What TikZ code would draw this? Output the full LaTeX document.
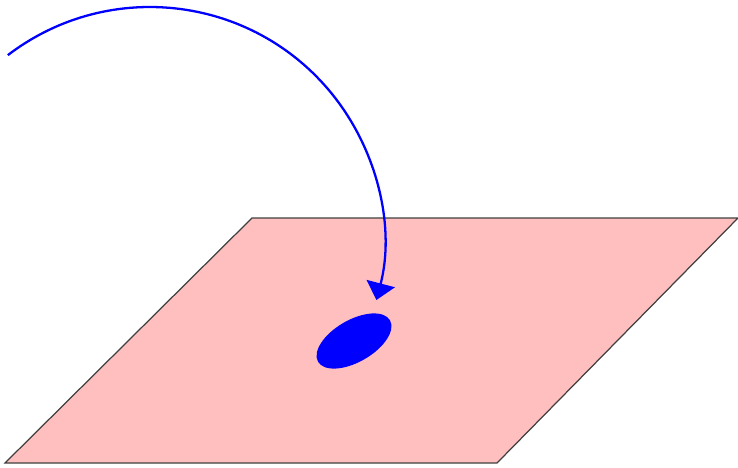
\documentclass[tikz,border=0pt]{standalone}
\usepackage{tikz,xcolor}
\usetikzlibrary{arrows.meta}

\begin{document}
\begin{tikzpicture}

    \useasboundingbox (0,0) rectangle (14.76,9.34);

    % Plane
    \draw[fill=red!25, draw=black!75, line width=0.7pt] (0.1,0.08) -- (9.94,0.08) -- (14.76,4.98) -- (5.04,4.98) -- cycle;

    % Spot on the plane
    \fill[blue, rotate around={30:(7.08,2.52)}] (7.08,2.52) ellipse (0.83cm and 0.42cm);

    % Falling path
    \draw[-{Triangle[length=0.34cm, width=0.58cm]}, blue, line width=1.3pt] ([shift={(127.4:4.68)}]3.0,4.52) arc (127.4:-14.6:4.68);

\end{tikzpicture}
\end{document}
